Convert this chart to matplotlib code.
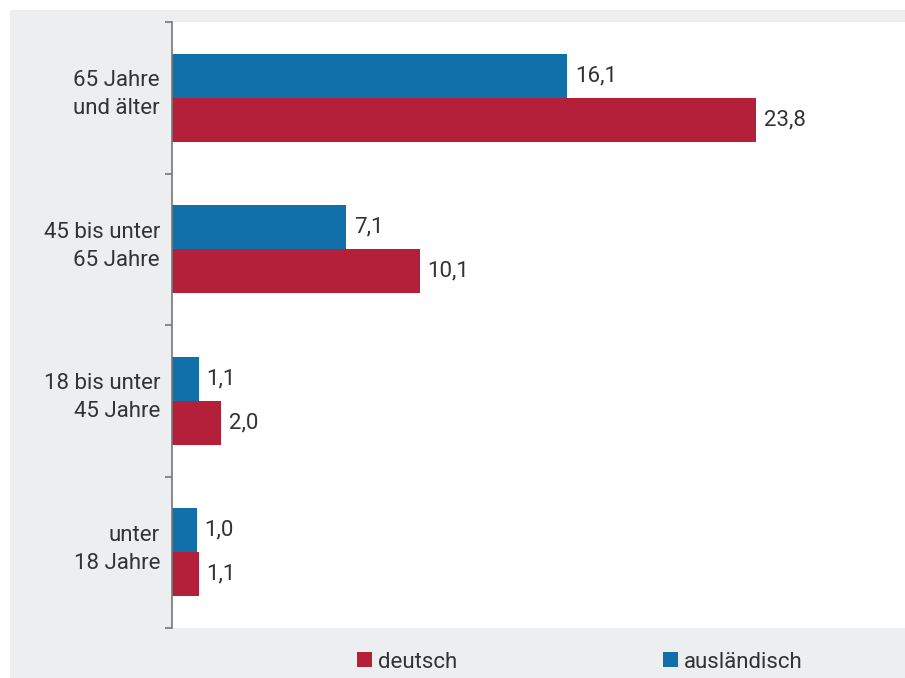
import matplotlib.pyplot as plt
import matplotlib.transforms as mtransforms
from matplotlib.patches import Patch, Rectangle

# Daten
categories = ["65 Jahre\nund älter", "45 bis unter\n65 Jahre", "18 bis unter\n45 Jahre", "unter\n18 Jahre"]
auslaendisch = [16.1, 7.1, 1.1, 1.0]
deutsch = [23.8, 10.1, 2.0, 1.1]

blue = "#1170AA"
red = "#B41F3A"
gray_bg = "#EDEEF0"
text_col = "#333333"

plt.rcParams['font.family'] = ['Roboto', 'DejaVu Sans']
fs = 16

W, H = 905, 678
fig = plt.figure(figsize=(W / 100, H / 100), dpi=100, facecolor="white")
fig.patches.append(Rectangle((10 / W, 0), (W - 10) / W, (H - 10) / H,
                             transform=fig.transFigure, facecolor=gray_bg,
                             edgecolor="none", zorder=-10))

ax = fig.add_axes([172 / W, (H - 628) / H, (W - 172) / W, (628 - 22) / H])
ax.set_facecolor("white")

y = list(range(len(categories)))
h = 0.29
y_blue = [v - h / 2 for v in y]
y_red = [v + h / 2 for v in y]
ax.barh(y_blue, auslaendisch, height=h, color=blue, label="ausländisch")
ax.barh(y_red, deutsch, height=h, color=red, label="deutsch")

for yy, v in zip(y_blue, auslaendisch):
    ax.annotate(f"{v:.1f}".replace(".", ","), (v, yy), xytext=(5.5, 0),
                textcoords="offset points", va="center", ha="left",
                fontsize=fs, color=text_col)
for yy, v in zip(y_red, deutsch):
    ax.annotate(f"{v:.1f}".replace(".", ","), (v, yy), xytext=(5.5, 0),
                textcoords="offset points", va="center", ha="left",
                fontsize=fs, color=text_col)

ax.set_xlim(0, (W - 172) / 24.54)
ax.set_ylim(len(categories) - 0.5, -0.5)
ax.set_xticks([])
ax.set_yticks([v - 0.5 for v in range(len(categories) + 1)])
ax.set_yticklabels([])
ax.tick_params(axis="y", length=5, width=1.2, color="#777777")

# Kategorienbeschriftung links
trans = ax.get_yaxis_transform() + mtransforms.ScaledTranslation(
    -12 / 100, 3 / 100, fig.dpi_scale_trans)
for yy, lab in zip(y, categories):
    ax.text(0, yy, lab, transform=trans, ha="right", va="center",
            fontsize=fs, color=text_col, linespacing=1.45, clip_on=False)

for s in ["top", "right", "bottom"]:
    ax.spines[s].set_visible(False)
ax.spines["left"].set_color("#777777")
ax.spines["left"].set_linewidth(1.2)

leg_y = (H - 662) / H
for x0, lab, col in [(357, "deutsch", red), (663, "ausländisch", blue)]:
    leg = fig.legend(handles=[Patch(facecolor=col, label=lab)],
                     loc="center left", bbox_to_anchor=(x0 / W, leg_y),
                     frameon=False, fontsize=fs, handlelength=0.68,
                     handleheight=0.68, handletextpad=0.25,
                     borderpad=0, borderaxespad=0)
    for t in leg.get_texts():
        t.set_color(text_col)

fig.savefig("out.png", dpi=100, facecolor=fig.get_facecolor())
